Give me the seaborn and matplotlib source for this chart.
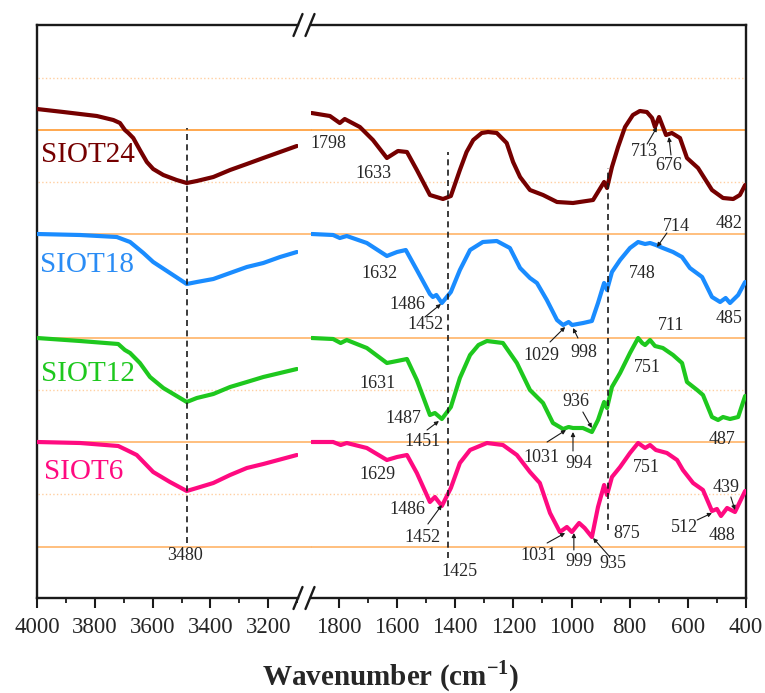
import numpy as np
import pandas as pd
import matplotlib
matplotlib.use("Agg")
import matplotlib.pyplot as plt
import seaborn as sns
from matplotlib.lines import Line2D

sns.set_theme(style="white")
plt.rcParams["font.family"] = ["Liberation Serif", "DejaVu Serif"]
plt.rcParams["mathtext.fontset"] = "custom"
plt.rcParams["mathtext.rm"] = "Liberation Serif"
plt.rcParams["mathtext.bf"] = "Liberation Serif:bold"

# ---------------- data (arbitrary transmittance units) ----------------
series_names = ["SIOT24", "SIOT18", "SIOT12", "SIOT6"]
series_colors = ["#750000", "#1a8cff", "#1ec81e", "#ff0a80"]
label_colors = ["#750000", "#2a8cf5", "#1ec81e", "#ff0a80"]

# high wavenumber segment (4000-3100)
wn_hi_24 = [4000, 3909, 3793, 3736, 3713, 3696, 3684, 3667, 3644, 3620, 3598, 3563, 3517, 3482,
            3447, 3390, 3332, 3274, 3217, 3159, 3101]
t_hi_24 = [489, 486, 482, 478, 475, 468, 465, 460, 448, 436, 429, 423, 418, 415,
           417, 421, 428, 434, 440, 446, 452]
wn_hi_18 = [4000, 3851, 3724, 3678, 3632, 3598, 3540, 3482, 3447, 3390, 3332, 3274, 3217, 3159, 3101]
t_hi_18 = [364, 363, 361, 356, 345, 336, 325, 314, 316, 319, 325, 331, 335, 341, 346]
wn_hi_12 = [4000, 3851, 3719, 3696, 3678, 3644, 3609, 3563, 3482, 3447, 3390, 3332, 3274, 3217, 3101]
t_hi_12 = [260, 257, 254, 248, 245, 235, 221, 210, 196, 200, 204, 211, 216, 221, 229]
wn_hi_6 = [4000, 3851, 3719, 3690, 3655, 3598, 3540, 3482, 3447, 3390, 3332, 3274, 3217, 3101]
t_hi_6 = [156, 155, 152, 148, 143, 126, 116, 107, 110, 115, 123, 130, 134, 143]

# low wavenumber segment (1900-400)
wn_lo_24 = [1894, 1831, 1797, 1780, 1728, 1683, 1635, 1597, 1566, 1532, 1487, 1442, 1415, 1384,
            1361, 1338, 1309, 1287, 1257, 1223, 1201, 1177, 1143, 1098, 1050, 995, 926, 888, 878,
            861, 840, 816, 789, 765, 741, 723, 713, 699, 675, 655, 627, 603, 565, 517, 479, 444,
            421, 403]
t_lo_24 = [485, 482, 475, 479, 471, 458, 440, 447, 446, 428, 403, 399, 402, 428,
           446, 458, 465, 466, 465, 455, 436, 421, 408, 403, 396, 395, 398, 416, 410,
           431, 451, 471, 483, 487, 486, 480, 471, 481, 463, 465, 460, 440, 430, 408, 400, 399,
           403, 413]
wn_lo_18 = [1894, 1820, 1797, 1773, 1704, 1635, 1600, 1570, 1532, 1487, 1477, 1465, 1446, 1415,
            1384, 1349, 1305, 1257, 1212, 1177, 1143, 1119, 1085, 1050, 1029, 1010, 998, 960, 930,
            909, 888, 878, 861, 833, 799, 771, 747, 730, 710, 686, 651, 620, 593, 551, 517, 489,
            470, 455, 427, 403]
t_lo_18 = [364, 363, 360, 362, 355, 342, 346, 348, 328, 304, 301, 303, 295, 306,
           328, 348, 356, 357, 350, 330, 320, 315, 298, 278, 273, 276, 273, 275, 277,
           295, 315, 308, 326, 338, 350, 356, 354, 355, 353, 350, 346, 341, 330, 321, 301, 296,
           300, 295, 303, 316]
wn_lo_12 = [1894, 1820, 1794, 1773, 1704, 1635, 1600, 1566, 1532, 1487, 1470, 1446, 1415, 1384,
            1349, 1320, 1291, 1236, 1188, 1143, 1098, 1064, 1029, 1010, 995, 961, 930, 909, 888,
            878, 861, 833, 799, 771, 757, 747, 730, 713, 686, 651, 620, 603, 568, 548, 517, 496,
            479, 455, 427, 403]
t_lo_12 = [260, 259, 255, 258, 250, 235, 237, 239, 218, 183, 185, 179, 191, 220,
           243, 253, 257, 255, 235, 208, 195, 175, 169, 171, 170, 170, 166, 178, 196,
           190, 211, 225, 245, 260, 255, 253, 258, 252, 250, 243, 235, 216, 208, 203, 181, 178,
           181, 179, 181, 202]
wn_lo_6 = [1894, 1820, 1794, 1773, 1704, 1635, 1600, 1566, 1532, 1487, 1470, 1446, 1415, 1384,
           1349, 1291, 1236, 1188, 1143, 1109, 1074, 1040, 1016, 999, 974, 955, 930, 909, 888,
           878, 861, 833, 799, 771, 747, 730, 710, 672, 637, 617, 582, 548, 517, 500, 486, 465,
           438, 403]
t_lo_6 = [156, 156, 153, 155, 150, 138, 141, 143, 125, 96, 101, 92, 110, 135,
          148, 155, 153, 143, 126, 115, 85, 66, 71, 66, 75, 70, 61, 91, 113,
          103, 121, 131, 145, 155, 150, 153, 148, 145, 138, 128, 115, 108, 87, 89, 82, 90,
          86, 107]

# reference lines
solid_levels = [468, 364, 260, 156, 51]
dotted_levels = [520, 416, 208, 104]

# peak annotations on the low-wavenumber panel
peak_labels = ["1798", "1633", "713", "676", "482", "714", "748", "1632", "1486", "1452", "485",
               "1029", "998", "711", "751", "1631", "936", "1487", "1451", "1031", "994", "487",
               "751", "1629", "1486", "1452", "875", "1031", "999", "935", "512", "439", "488",
               "1425"]
peak_keys = ["", "", "713", "676", "", "714", "", "", "", "1452a", "",
             "1029", "998", "", "", "", "936", "", "1451", "1031a", "994", "",
             "", "", "", "1452b", "", "1031b", "999", "935", "512", "439", "",
             ""]
peak_text_wn = [1838, 1680, 751, 665, 458, 641, 758, 1662, 1566, 1501, 458,
                1105, 957, 658, 740, 1666, 985, 1580, 1511, 1102, 974, 482,
                744, 1666, 1566, 1511, 809, 1112, 974, 857, 613, 469, 482,
                1384]
peak_text_t = [454, 424, 447, 432, 375, 372, 325, 325, 294, 274, 280,
               243, 246, 273, 231, 215, 197, 180, 157, 141, 135, 159,
               131, 124, 88, 61, 65, 43, 37, 34, 70, 111, 63,
               26]
arrow_tail = {"713": (740, 454), "676": (658, 443), "714": (672, 365), "1452a": (1504, 281),
              "1029": (1074, 256), "998": (978, 260), "936": (961, 186), "1451": (1497, 168),
              "1031a": (1084, 156), "994": (995, 147), "1452b": (1494, 74), "1031b": (1084, 55),
              "999": (992, 48), "935": (868, 41), "512": (568, 78), "439": (452, 101)}
arrow_head = {"713": (706, 471), "676": (665, 461), "714": (706, 351), "1452a": (1449, 294),
              "1029": (1022, 271), "998": (995, 270), "936": (930, 170), "1451": (1456, 177),
              "1031a": (1019, 168), "994": (995, 166), "1452b": (1446, 93), "1031b": (1022, 65),
              "999": (992, 65), "935": (926, 60), "512": (517, 85), "439": (438, 88)}

# ---------------- build long table ----------------
hi = {"SIOT24": (wn_hi_24, t_hi_24), "SIOT18": (wn_hi_18, t_hi_18),
      "SIOT12": (wn_hi_12, t_hi_12), "SIOT6": (wn_hi_6, t_hi_6)}
lo = {"SIOT24": (wn_lo_24, t_lo_24), "SIOT18": (wn_lo_18, t_lo_18),
      "SIOT12": (wn_lo_12, t_lo_12), "SIOT6": (wn_lo_6, t_lo_6)}
rows = []
for name in series_names:
    for w, t in zip(*hi[name]):
        rows.append((name, "hi", w, t))
    for w, t in zip(*lo[name]):
        rows.append((name, "lo", w, t))
df = pd.DataFrame(rows, columns=["sample", "segment", "wavenumber", "T"])
palette = dict(zip(series_names, series_colors))

# ---------------- figure ----------------
W, H = 765, 693
fig = plt.figure(figsize=(W / 100, H / 100), dpi=100)


def fx(px):
    return px / W


def fy(py):
    return 1 - py / H


x0, x1, x2, x3 = 37, 298, 311, 746
ytop, ybot = 25, 598
axL = fig.add_axes([fx(x0), fy(ybot), fx(x1) - fx(x0), fy(ytop) - fy(ybot)])
axR = fig.add_axes([fx(x2), fy(ybot), fx(x3) - fx(x2), fy(ytop) - fy(ybot)], sharey=axL)

for ax, seg in ((axL, "hi"), (axR, "lo")):
    sns.lineplot(data=df[df.segment == seg], x="wavenumber", y="T", hue="sample",
                 palette=palette, estimator=None, legend=False, lw=3.0, ax=ax, zorder=5,
                 solid_joinstyle="round", solid_capstyle="round")
    ax.set_xlabel("")
    ax.set_ylabel("")

axL.set_xlim(4000, 3097)
axR.set_xlim(1896, 400)
axL.set_ylim(0, 573)

# horizontal guide lines (span the break)
xm = (x2 - x0) / (x1 - x0)
for i, lv in enumerate(solid_levels):
    c = "#ff9a30" if i == 0 else "#ffb468"
    axL.axhline(lv, xmin=0.005, xmax=xm, color=c, lw=1.2, clip_on=False, zorder=1)
    axR.axhline(lv, color=c, lw=1.2, zorder=1)
for lv in dotted_levels:
    axL.axhline(lv, xmin=0.005, xmax=xm, color="#ffcfa0", lw=1.0, ls=":",
                clip_on=False, zorder=1)
    axR.axhline(lv, color="#ffcfa0", lw=1.0, ls=":", zorder=1)

# vertical dashed markers
dash = (0, (3.6, 2.6))
axL.vlines(3480, 55, 470, colors="k", lw=1.2, linestyles=[dash], zorder=6)
axR.vlines(1425, 40, 446, colors="k", lw=1.2, linestyles=[dash], zorder=6)
axR.vlines(875, 68, 430, colors="k", lw=1.2, linestyles=[dash], zorder=6)

# sample labels
label_t = [443, 333, 224, 126]
label_x = [3986, 3990, 3986, 3976]
for name, c, lx, lt in zip(series_names, label_colors, label_x, label_t):
    axL.text(lx, lt, name, color=c, fontsize=21, ha="left", va="center", zorder=7)

axL.text(3488, 42, "3480", fontsize=13, ha="center", va="center", zorder=7)

# peak labels
for lab, key, tw, tt in zip(peak_labels, peak_keys, peak_text_wn, peak_text_t):
    axR.text(tw, tt, lab, fontsize=13, ha="center", va="center", zorder=7)
    if key:
        axR.annotate("", xy=arrow_head[key], xytext=arrow_tail[key],
                     arrowprops=dict(arrowstyle="-|>", lw=0.8, color="k",
                                     mutation_scale=6, shrinkA=0, shrinkB=0), zorder=7)

# spines & ticks
for ax in (axL, axR):
    for s in ax.spines.values():
        s.set_color("k")
        s.set_linewidth(1.7)
    ax.tick_params(axis="y", left=False, right=False, labelleft=False)
    ax.tick_params(axis="x", which="major", direction="out", length=7, width=1.5,
                   labelsize=16.5, pad=7, color="k", bottom=True)
    ax.tick_params(axis="x", which="minor", direction="out", length=3.5, width=1.3,
                   color="k", bottom=True)
    ax.set_facecolor("none")
axL.spines["right"].set_visible(False)
axR.spines["left"].set_visible(False)
axL.set_xticks([4000, 3800, 3600, 3400, 3200])
axL.set_xticks([3900, 3700, 3500, 3300, 3100], minor=True)
axR.set_xticks([1800, 1600, 1400, 1200, 1000, 800, 600, 400])
axR.set_xticks([1700, 1500, 1300, 1100, 900, 700, 500], minor=True)
axL.set_xticklabels(["4000", "3800", "3600", "3400", "3200"], fontfamily="Liberation Serif")
axR.set_xticklabels(["1800", "1600", "1400", "1200", "1000", "800", "600", "400"],
                    fontfamily="Liberation Serif")

# break marks
for yb in (ytop, ybot):
    for xc in (x1, x2 - 1):
        fig.add_artist(Line2D([fx(xc - 4.5), fx(xc + 4.5)], [fy(yb + 11), fy(yb - 11)],
                              color="k", lw=1.7, transform=fig.transFigure))

fig.text(fx(391), fy(676), r"Wavenumber (cm$^{\mathbf{-1}}$)", fontsize=21,
         fontweight="bold", ha="center", va="center")

fig.savefig("out.png", dpi=100, facecolor="white")
